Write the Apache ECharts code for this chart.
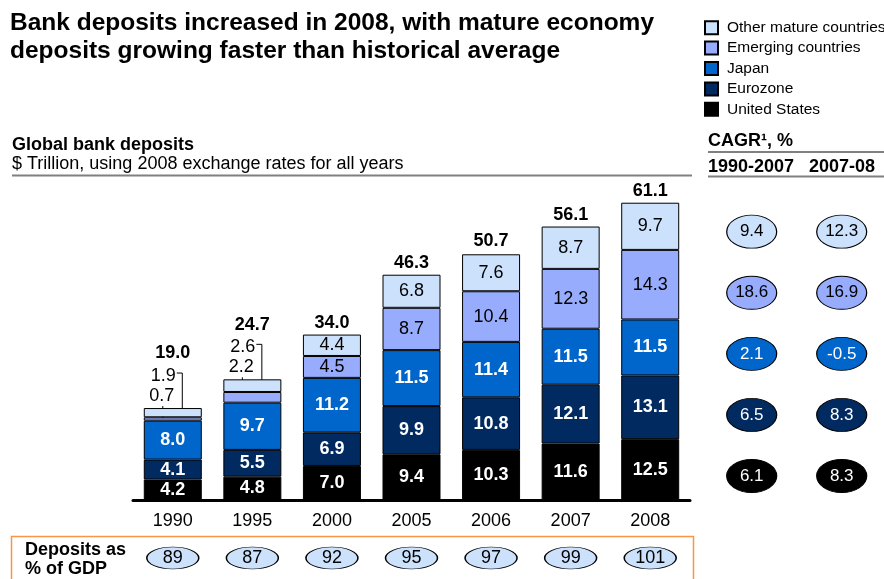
<!DOCTYPE html>
<html>
<head>
<meta charset="utf-8">
<script src="https://cdn.jsdelivr.net/npm/echarts@6/dist/echarts.min.js"></script>
<style>
  html, body { margin: 0; padding: 0; background: #ffffff; }
  #chart { width: 884px; height: 579px; }
</style>
</head>
<body>
<div id="chart"></div>
<script>
// Global bank deposits, $ trillion at 2008 exchange rates
const years = ['1990', '1995', '2000', '2005', '2006', '2007', '2008'];
const unitedStates = [4.2, 4.8, 7.0, 9.4, 10.3, 11.6, 12.5];
const eurozone = [4.1, 5.5, 6.9, 9.9, 10.8, 12.1, 13.1];
const japan = [8.0, 9.7, 11.2, 11.5, 11.4, 11.5, 11.5];
const emerging = [0.7, 2.2, 4.5, 8.7, 10.4, 12.3, 14.3];
const otherMature = [1.9, 2.6, 4.4, 6.8, 7.6, 8.7, 9.7];
const totals = [19.0, 24.7, 34.0, 46.3, 50.7, 56.1, 61.1];

// Deposits as % of GDP
const gdpShare = [89, 87, 92, 95, 97, 99, 101];

// CAGR, % (rows bottom-up: US, Eurozone, Japan, Emerging, Other mature)
const regions = ['United States', 'Eurozone', 'Japan', 'Emerging countries', 'Other mature countries'];
const cagrPeriods = ['1990-2007', '2007-08'];
const cagr19902007 = [6.1, 6.5, 2.1, 18.6, 9.4];
const cagr200708 = [8.3, 8.3, -0.5, 16.9, 12.3];

// Years whose thin top segments are labelled with leader lines
const calloutYears = [0, 1];

const FONT = '"Liberation Sans", Arial, sans-serif';
const colors = {
  'United States': '#000000',
  'Eurozone': '#002a60',
  'Japan': '#0066cc',
  'Emerging countries': '#97acfd',
  'Other mature countries': '#cce1fb'
};
const labelColors = {
  'United States': '#ffffff',
  'Eurozone': '#ffffff',
  'Japan': '#ffffff',
  'Emerging countries': '#000000',
  'Other mature countries': '#000000'
};

function barSeries(name, values) {
  const light = name === 'Emerging countries' || name === 'Other mature countries';
  return {
    name: name,
    type: 'bar',
    stack: 'deposits',
    barWidth: 58,
    silent: true,
    itemStyle: { color: colors[name], borderColor: '#000', borderWidth: 1 },
    label: {
      show: true,
      position: 'inside',
      color: labelColors[name],
      fontSize: 18,
      fontWeight: light ? 'normal' : 'bold',
      fontFamily: FONT,
      formatter: p => p.value.toFixed(1)
    },
    data: values.map((v, i) => (light && calloutYears.includes(i))
      ? { value: v, label: { show: false } }
      : v)
  };
}

// Leader-line callouts for the thin segments of early years
const calloutData = [];
calloutYears.forEach(i => {
  const baseEm = unitedStates[i] + eurozone[i] + japan[i];
  const baseOt = baseEm + emerging[i];
  const top = baseOt + otherMature[i];
  calloutData.push([i, baseEm, emerging[i], top, 0]);
  calloutData.push([i, baseOt, otherMature[i], top, 1]);
});

const chart = echarts.init(document.getElementById('chart'), null, { renderer: 'canvas' });

const centered = { textAlign: 'center', textVerticalAlign: 'middle', align: 'center', verticalAlign: 'middle' };

const option = {
  animation: false,
  textStyle: { fontFamily: FONT },
  legend: {
    orient: 'vertical',
    left: 704,
    top: 19.7,
    padding: 0,
    itemWidth: 13,
    itemHeight: 13,
    itemGap: 4.4,
    selectedMode: false,
    icon: 'rect',
    textStyle: { fontSize: 15.5, color: '#000', fontFamily: FONT, padding: [0, 0, 0, 4] },
    data: ['Other mature countries', 'Emerging countries', 'Japan', 'Eurozone', 'United States']
  },
  grid: [
    { left: 133, right: 194, top: 159.4, bottom: 79 },
    { left: 751.7, right: 42.3, top: 231.7, bottom: 103 },
    { left: 133, right: 194, top: 547, height: 22 }
  ],
  xAxis: [
    {
      gridIndex: 0, type: 'category', data: years,
      axisLine: { lineStyle: { color: '#000', width: 3 } },
      axisTick: { show: false },
      axisLabel: { fontSize: 18, color: '#000', margin: 12, fontFamily: FONT }
    },
    { gridIndex: 1, type: 'category', data: cagrPeriods, boundaryGap: false, show: false },
    { gridIndex: 2, type: 'category', data: years, show: false }
  ],
  yAxis: [
    { gridIndex: 0, type: 'value', min: 0, max: 70, show: false, splitLine: { show: false } },
    { gridIndex: 1, type: 'category', data: regions, boundaryGap: false, show: false },
    { gridIndex: 2, type: 'value', min: -1, max: 1, show: false, splitLine: { show: false } }
  ],
  graphic: [
    {
      type: 'text', left: 10, top: 9,
      style: {
        text: 'Bank deposits increased in 2008, with mature economy\ndeposits growing faster than historical average',
        font: 'bold 24.5px ' + FONT, fill: '#000', lineHeight: 28
      }
    },
    { type: 'text', left: 12, top: 136, style: { text: 'Global bank deposits', font: 'bold 18px ' + FONT, fill: '#000' } },
    { type: 'text', left: 12, top: 155, style: { text: '$ Trillion, using 2008 exchange rates for all years', font: '18px ' + FONT, fill: '#000' } },
    { type: 'line', shape: { x1: 12, y1: 175.5, x2: 692, y2: 175.5 }, style: { stroke: '#808080', lineWidth: 2 } },
    { type: 'text', left: 708, top: 132, style: { text: 'CAGR¹, %', font: 'bold 18px ' + FONT, fill: '#000' } },
    { type: 'line', shape: { x1: 708, y1: 152, x2: 884, y2: 152 }, style: { stroke: '#808080', lineWidth: 2 } },
    { type: 'text', left: 708, top: 158, style: { text: '1990-2007', font: 'bold 18px ' + FONT, fill: '#000' } },
    { type: 'text', left: 809, top: 158, style: { text: '2007-08', font: 'bold 18px ' + FONT, fill: '#000' } },
    { type: 'line', shape: { x1: 708, y1: 176.5, x2: 884, y2: 176.5 }, style: { stroke: '#808080', lineWidth: 2 } },
    { type: 'rect', shape: { x: 11.5, y: 536.5, width: 682, height: 48 }, style: { fill: 'none', stroke: '#f79646', lineWidth: 1.5 } },
    {
      type: 'text', left: 25, top: 541,
      style: { text: 'Deposits as\n% of GDP', font: 'bold 18px ' + FONT, fill: '#000', lineHeight: 19 }
    }
  ],
  series: [
    barSeries('United States', unitedStates),
    barSeries('Eurozone', eurozone),
    barSeries('Japan', japan),
    barSeries('Emerging countries', emerging),
    barSeries('Other mature countries', otherMature),
    {
      // stack totals above each bar
      type: 'custom',
      xAxisIndex: 0, yAxisIndex: 0,
      silent: true,
      data: totals.map((t, i) => [i, t]),
      renderItem: function (params, api) {
        const i = api.value(0);
        const p = api.coord([i, api.value(1)]);
        const lift = calloutYears.includes(i) ? 55 : 12;
        return {
          type: 'text',
          style: Object.assign({
            text: api.value(1).toFixed(1), x: p[0], y: p[1] - lift,
            font: 'bold 18px ' + FONT, fill: '#000'
          }, centered)
        };
      }
    },
    {
      // callout labels with leader lines for thin segments
      type: 'custom',
      xAxisIndex: 0, yAxisIndex: 0,
      silent: true,
      data: calloutData,
      renderItem: function (params, api) {
        const i = api.value(0);
        const base = api.value(1);
        const v = api.value(2);
        const top = api.coord([i, api.value(3)]);
        const mid = api.coord([i, base + v / 2]);
        const cx = top[0];
        const ty = top[1];
        const isTopSegment = api.value(4) === 1;
        const children = [];
        if (isTopSegment) {
          children.push({
            type: 'text',
            style: Object.assign({
              text: v.toFixed(1), x: cx - 9.5, y: ty - 32,
              font: '18px ' + FONT, fill: '#000'
            }, centered)
          });
          children.push({
            type: 'polyline',
            shape: { points: [[cx + 4, ty - 35], [cx + 9.5, ty - 35], [cx + 9.5, mid[1]]] },
            style: { stroke: '#000', lineWidth: 1, fill: null }
          });
        } else {
          children.push({
            type: 'text',
            style: Object.assign({
              text: v.toFixed(1), x: cx - 11, y: ty - 12,
              font: '18px ' + FONT, fill: '#000'
            }, centered)
          });
          children.push({
            type: 'line',
            shape: { x1: cx - 10, y1: ty - 2, x2: cx - 10, y2: mid[1] },
            style: { stroke: '#000', lineWidth: 1 }
          });
        }
        return { type: 'group', children: children };
      }
    },
    {
      // CAGR bubbles
      type: 'scatter',
      xAxisIndex: 1, yAxisIndex: 1,
      silent: true,
      symbol: 'circle',
      symbolSize: [50, 33],
      data: regions.flatMap((r, k) => [
        {
          value: [0, k, cagr19902007[k]],
          itemStyle: { color: colors[r], borderColor: '#000', borderWidth: 1, opacity: 1 },
          label: { color: labelColors[r] }
        },
        {
          value: [1, k, cagr200708[k]],
          itemStyle: { color: colors[r], borderColor: '#000', borderWidth: 1, opacity: 1 },
          label: { color: labelColors[r] }
        }
      ]),
      label: {
        show: true, position: 'inside', fontSize: 17, fontFamily: FONT,
        formatter: p => p.value[2].toFixed(1)
      }
    },
    {
      // deposits as % of GDP bubbles
      type: 'scatter',
      xAxisIndex: 2, yAxisIndex: 2,
      silent: true,
      symbol: 'circle',
      symbolSize: [52, 22],
      itemStyle: { color: '#cce1fb', borderColor: '#000', borderWidth: 1, opacity: 1 },
      label: {
        show: true, position: 'inside', fontSize: 18, color: '#000', fontFamily: FONT,
        formatter: p => String(p.value[2])
      },
      data: gdpShare.map((g, i) => [i, 0, g])
    }
  ]
};

chart.setOption(option);
</script>
</body>
</html>
